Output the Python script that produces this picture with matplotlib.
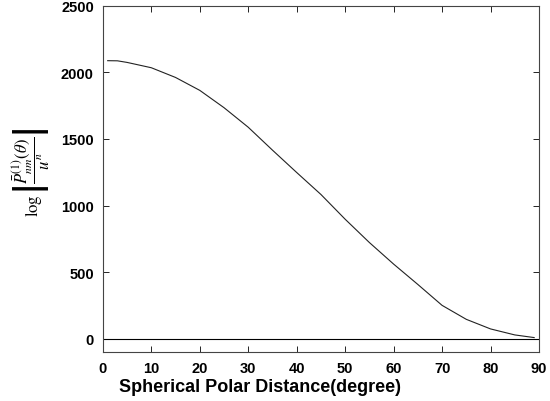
import matplotlib
matplotlib.use("Agg")
import matplotlib.pyplot as plt

# values
theta = [1, 3, 5, 10, 15, 20, 25, 30, 35, 40, 45, 50, 55, 60, 65, 70, 75, 80, 85, 89]
value = [2088, 2087, 2075, 2035, 1962, 1865, 1735, 1588, 1416, 1248, 1083, 897,
         722, 560, 407, 250, 145, 73, 28, 8]
zero_x = [0, 90]
zero_y = [0, 0]

plt.rcParams['font.family'] = ['Liberation Sans', 'DejaVu Sans']
plt.rcParams['mathtext.fontset'] = 'stix'

fig = plt.figure(figsize=(5.5, 4.02), dpi=100)
ax = fig.add_axes([0.187, 0.122, 0.793, 0.861])

ax.plot(theta, value, color='#222222', lw=0.8)
ax.plot(zero_x, zero_y, color='black', lw=0.8)

ax.set_xlim(0, 90)
ax.set_ylim(-100, 2500)
ax.set_xticks(range(0, 91, 10))
ax.set_yticks(range(0, 2501, 500))
ax.tick_params(direction='in', top=True, right=True, labelsize=10.5, length=4,
               width=0.6, pad=6.5)
for lab in ax.get_xticklabels() + ax.get_yticklabels():
    lab.set_fontweight('bold')
for s in ax.spines.values():
    s.set_linewidth(0.8)
    s.set_color('#444444')

ax.set_xlabel("Spherical Polar Distance(degree)", fontsize=13, fontweight='bold')
ax.xaxis.set_label_coords(0.36, -0.075)
ax.set_ylabel(r'$\log\left|\dfrac{\bar{P}^{(1)}_{nm}(\theta)}{u^n}\right|$', fontsize=12)
ax.yaxis.set_label_coords(-0.117, 0.52)

fig.savefig("out.png", dpi=100)
